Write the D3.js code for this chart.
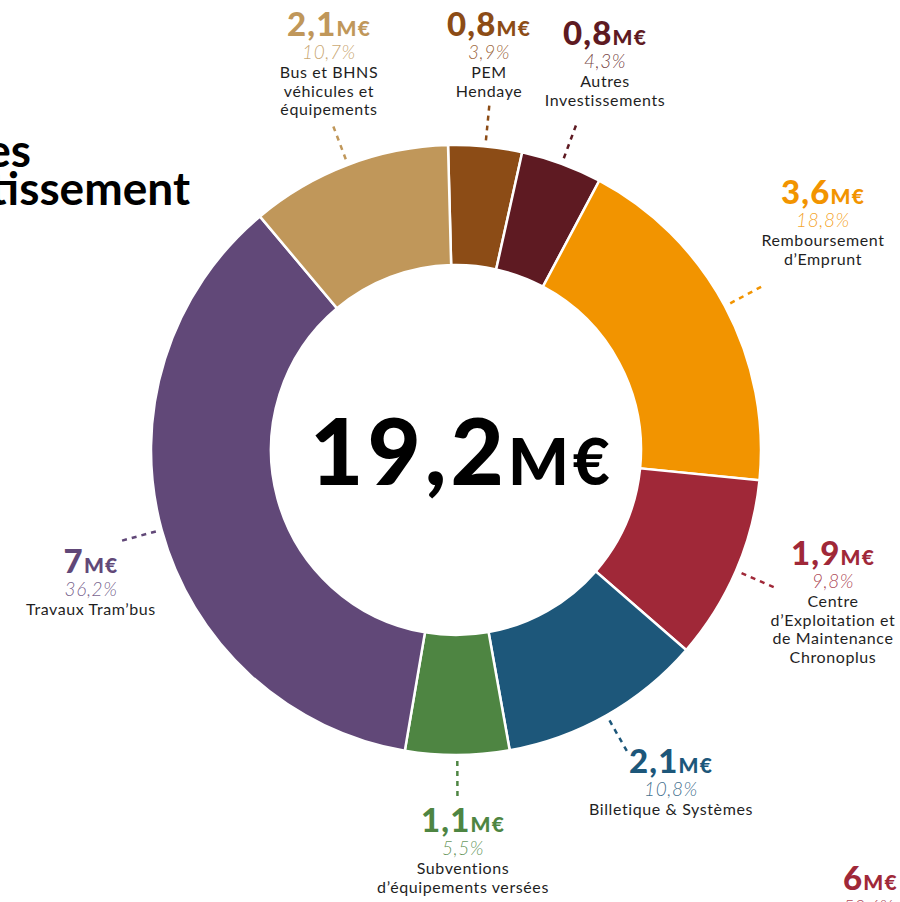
<!DOCTYPE html>
<html>
<head>
<meta charset="utf-8">
<script src="https://cdn.jsdelivr.net/npm/d3@7"></script>
<style>
  html, body { margin: 0; padding: 0; background: #fff; }
  svg { display: block; }
</style>
</head>
<body>
<svg id="chart" width="900" height="902"></svg>
<script>
// slices, clockwise from the top
var categories = ["PEM", "Autres", "Remboursement", "Centre", "Billetique", "Subventions", "Travaux", "Bus"];
var labels = [
    ["PEM", "Hendaye"],
    ["Autres", "Investissements"],
    ["Remboursement", "d\u2019Emprunt"],
    ["Centre", "d\u2019Exploitation et", "de Maintenance", "Chronoplus"],
    ["Billetique & Syst\u00e8mes"],
    ["Subventions", "d\u2019\u00e9quipements vers\u00e9es"],
    ["Travaux Tram\u2019bus"],
    ["Bus et BHNS", "v\u00e9hicules et", "\u00e9quipements"]
];
var amounts = [0.8, 0.8, 3.6, 1.9, 2.1, 1.1, 7, 2.1];       // M€
var percents = [3.9, 4.3, 18.8, 9.8, 10.8, 5.5, 36.2, 10.7]; // %
var total = 19.2;
var colors = ["#8c4c16", "#5e1a22", "#f29400", "#a02838", "#1d577a", "#4e8542", "#614878", "#c0975a"];

// where each annotation block sits (x centre, baseline of the amount)
var labelAt = [[489, 36], [605, 45], [823, 204], [833, 565], [671, 773], [463, 832], [91, 573], [329, 36]];

var svg = d3.select("#chart");
var cx = 456, cy = 450, rOut = 305, rIn = 185;
var fmt = function(v) { return (v % 1 === 0 ? d3.format("d")(v) : d3.format(".1f")(v)).replace(".", ","); };

var data = categories.map(function(c, i) {
    return {key: c, amount: amounts[i], pct: percents[i], color: colors[i], lines: labels[i], at: labelAt[i]};
});

var start = -1.5 * Math.PI / 180;
var pie = d3.pie().sort(null).value(function(d) { return d.pct; })
    .startAngle(start).endAngle(start + 2 * Math.PI);
var arc = d3.arc().innerRadius(rIn).outerRadius(rOut);

var g = svg.append("g").attr("transform", "translate(" + cx + "," + cy + ")");
var arcs = pie(data);

g.selectAll("path.slice")
    .data(arcs)
    .enter().append("path")
    .attr("class", "slice")
    .attr("d", arc)
    .attr("fill", function(d) { return d.data.color; })
    .attr("stroke", "#fff")
    .attr("stroke-width", 2.5);

// dashed leaders, pointing out from the middle of each slice
g.selectAll("line.leader")
    .data(arcs)
    .enter().append("line")
    .attr("class", "leader")
    .each(function(d) {
        var a = (d.startAngle + d.endAngle) / 2;
        d3.select(this)
            .attr("x1", 311 * Math.sin(a)).attr("y1", -311 * Math.cos(a))
            .attr("x2", 347 * Math.sin(a)).attr("y2", -347 * Math.cos(a));
    })
    .attr("stroke", function(d) { return d.data.color; })
    .attr("stroke-width", 2.5)
    .attr("stroke-dasharray", "5,5");

// annotation blocks
var ann = svg.selectAll("g.ann")
    .data(data)
    .enter().append("g")
    .attr("class", "ann")
    .attr("transform", function(d) { return "translate(" + d.at[0] + "," + d.at[1] + ")"; });

var val = ann.append("text")
    .attr("text-anchor", "middle")
    .attr("fill", function(d) { return d.color; })
    .style("font-family", "Lato, sans-serif")
    .style("font-weight", 900)
    .style("letter-spacing", "1.2px");
val.append("tspan").style("font-size", "33px").text(function(d) { return fmt(d.amount); });
val.append("tspan").style("font-size", "21px").text("M\u20ac");

ann.append("text")
    .attr("text-anchor", "middle")
    .attr("y", 23)
    .attr("fill", function(d) { return d.color; })
    .attr("fill-opacity", 0.85)
    .style("font-family", "Lato, sans-serif")
    .style("font-weight", 300)
    .style("font-style", "italic")
    .style("font-size", "19px")
    .style("letter-spacing", "0.6px")
    .text(function(d) { return fmt(d.pct) + "%"; });

ann.append("text")
    .attr("text-anchor", "middle")
    .attr("fill", "#1f1f1f")
    .style("font-family", "Lato, sans-serif")
    .style("font-size", "16px")
    .style("letter-spacing", "0.6px")
    .selectAll("tspan")
    .data(function(d) { return d.lines; })
    .enter().append("tspan")
    .attr("x", 0)
    .attr("y", function(d, i) { return 42 + i * 18.5; })
    .text(function(d) { return d; });

// total in the hole
var tot = svg.append("text")
    .attr("x", cx + 6).attr("y", 485)
    .attr("text-anchor", "middle")
    .attr("fill", "#000")
    .style("font-family", "Lato, sans-serif")
    .style("font-weight", 900)
    .style("letter-spacing", "4px");
tot.append("tspan").style("font-size", "92px").text(fmt(total));
tot.append("tspan").style("font-size", "64px").text("M\u20ac");

// cropped title on the left
var title = svg.append("text")
    .attr("text-anchor", "end")
    .attr("fill", "#000")
    .style("font-family", "Lato, sans-serif")
    .style("font-weight", 700)
    .style("font-size", "46px");
title.append("tspan").attr("x", 31).attr("y", 167).text("D\u00e9penses");
title.append("tspan").attr("x", 190).attr("y", 205).text("d\u2019investissement");

// neighbouring chart, cut by the frame
var other = svg.append("g").attr("transform", "translate(843,890)");
var ov = other.append("text").attr("fill", "#a02838")
    .style("font-family", "Lato, sans-serif").style("font-weight", 900)
    .style("letter-spacing", "1.2px");
ov.append("tspan").style("font-size", "33px").text("6");
ov.append("tspan").style("font-size", "21px").text("M\u20ac");
other.append("text").attr("y", 24).attr("fill", "#a02838").attr("fill-opacity", 0.85)
    .style("font-family", "Lato, sans-serif").style("font-weight", 300)
    .style("font-style", "italic").style("font-size", "19px").text("53,6%");
</script>
</body>
</html>
